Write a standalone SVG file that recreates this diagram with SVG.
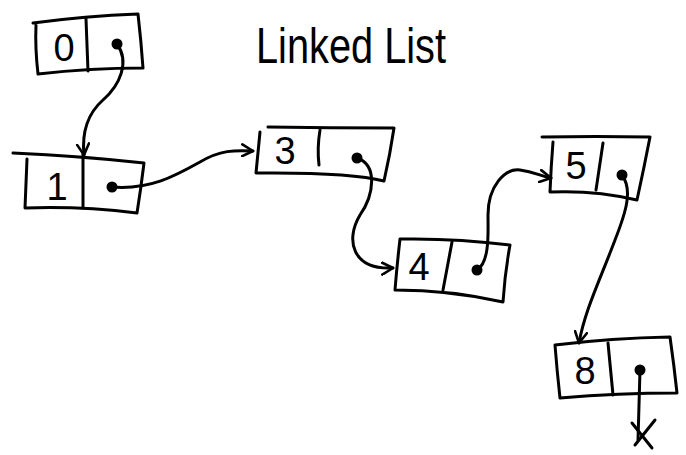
<svg xmlns="http://www.w3.org/2000/svg" width="686" height="455" viewBox="0 0 686 455">
  <defs>
    <style>
      .ink { fill: none; stroke: #000; stroke-width: 3; stroke-linecap: round; stroke-linejoin: round; }
      .dot { fill: #000; }
      .val { font-family: "Liberation Sans", Arial, sans-serif; font-size: 38px; fill: #000; text-anchor: middle; }
      .title { font-family: "Liberation Sans", Arial, sans-serif; font-size: 50px; fill: #000; }
    </style>
    <marker id="chev" viewBox="0 0 14 14" refX="12" refY="7" markerWidth="14" markerHeight="14" markerUnits="userSpaceOnUse" orient="auto">
      <path d="M1,1 L12,7 L1,13" fill="none" stroke="#000" stroke-width="2.6" stroke-linecap="round" stroke-linejoin="round"/>
    </marker>
  </defs>
  <rect width="686" height="455" fill="#fff"/>

  <text class="title" x="256" y="63" textLength="190" lengthAdjust="spacingAndGlyphs">Linked List</text>

  <g id="node-0">
    <path class="ink" d="M33,23 Q85,16 138,14 Q141,40 143,68 Q90,68 38,74 Q35,48 36,25"/>
    <path class="ink" d="M86,19 L88,71"/>
    <text class="val" x="64" y="61">0</text>
    <circle class="dot" cx="117" cy="44" r="5.5"/>
  </g>

  <g id="node-1">
    <path class="ink" d="M13,153 Q80,156 144,163 Q141,188 137,213 Q80,206 25,208 Q26,183 27,159"/>
    <path class="ink" d="M83,154 L83,208"/>
    <text class="val" x="57" y="200">1</text>
    <circle class="dot" cx="112" cy="187" r="5.5"/>
  </g>

  <g id="node-3">
    <path class="ink" d="M268,127 Q330,128 394,128 Q390,155 384,181 Q350,172 256,173 Q258,152 260,132"/>
    <path class="ink" d="M320,130 Q317,148 319,165"/>
    <text class="val" x="285" y="164">3</text>
    <circle class="dot" cx="357" cy="158" r="5.5"/>
  </g>

  <g id="node-4">
    <path class="ink" d="M400,239 Q455,238 510,245 Q505,272 503,302 Q450,290 395,290 Q397,265 400,239"/>
    <path class="ink" d="M452,242 L443,290"/>
    <text class="val" x="419" y="280">4</text>
    <circle class="dot" cx="477" cy="270" r="5.5"/>
  </g>

  <g id="node-5">
    <path class="ink" d="M542,137 Q596,136 650,137 Q644,168 637,200 Q595,190 550,192 Q551,167 553,142"/>
    <path class="ink" d="M603,143 L596,190"/>
    <text class="val" x="576" y="179">5</text>
    <circle class="dot" cx="622" cy="175" r="5.5"/>
  </g>

  <g id="node-8">
    <path class="ink" d="M555,345 Q612,338 670,337 Q674,365 677,393 Q618,393 560,398 Q557,371 555,345"/>
    <path class="ink" d="M608,343 L613,395"/>
    <text class="val" x="585" y="384">8</text>
    <circle class="dot" cx="640" cy="370" r="5.5"/>
  </g>

  <g id="connectors">
    <path class="ink" marker-end="url(#chev)" d="M117,44 C130,62 120,85 103,100 C86,115 82,135 84,155"/>
    <path class="ink" marker-end="url(#chev)" d="M112,187 C150,190 175,176 200,162 C220,150 235,150 253,151"/>
    <path class="ink" marker-end="url(#chev)" d="M357,158 C378,165 374,195 360,215 C345,240 352,270 393,268"/>
    <path class="ink" marker-end="url(#chev)" d="M477,270 C490,262 488,232 488,215 C488,186 505,168 520,170 C535,172 540,176 551,178"/>
    <path class="ink" marker-end="url(#chev)" d="M622,175 C633,190 626,212 615,240 C600,280 585,310 579,343"/>
    <path class="ink" d="M640,370 L638,440"/>
    <path class="ink" d="M632,423 L652,448 M655,420 L635,445"/>
  </g>
</svg>
